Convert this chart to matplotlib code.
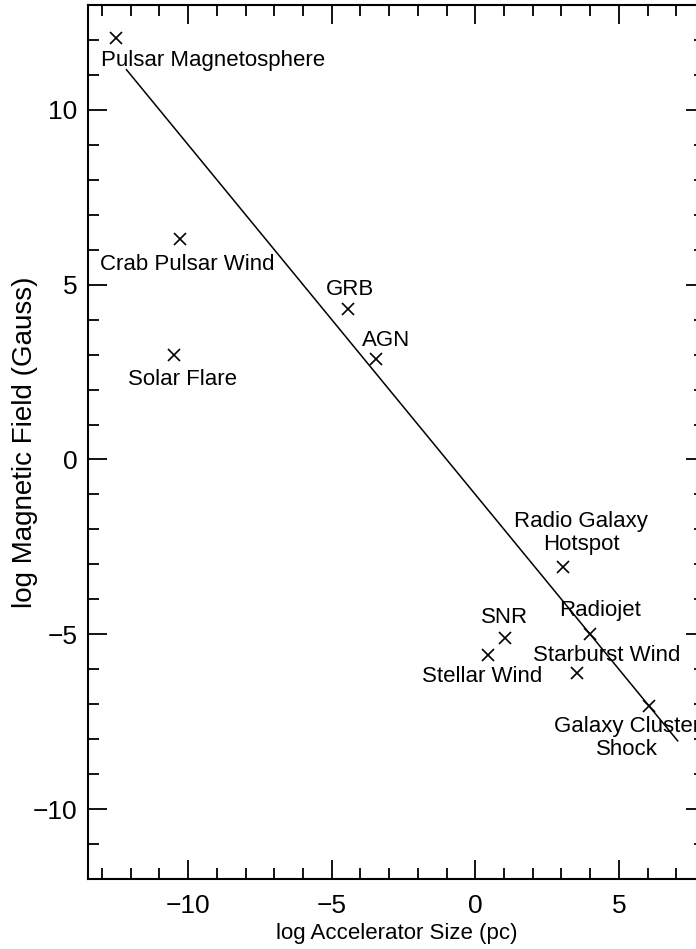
import matplotlib
matplotlib.use("Agg")
import matplotlib.pyplot as plt
from matplotlib.ticker import MultipleLocator

plt.rcParams['font.family'] = ['Liberation Sans', 'DejaVu Sans']

# sources: log size (pc), log B (Gauss)
names = ["Pulsar Magnetosphere", "Crab Pulsar Wind", "Solar Flare", "GRB", "AGN",
         "Radio Galaxy\nHotspot", "Radiojet", "SNR", "Stellar Wind",
         "Starburst Wind", "Galaxy Cluster\nShock"]
log_size = [-12.5, -10.3, -10.5, -4.45, -3.45, 3.05, 4.0, 1.05, 0.45, 3.55, 6.05]
log_B = [12.05, 6.3, 3.0, 4.3, 2.87, -3.07, -5.0, -5.1, -5.6, -6.1, -7.05]

# label centres
label_x = [-9.15, -10.03, -10.21, -4.35, -3.12, 3.68, 4.36, 1.02, 0.25, 4.56, 5.27]
label_y = [11.41, 5.58, 2.30, 4.86, 3.40, -2.10, -4.32, -4.53, -6.21, -5.61, -7.97]

# Hillas line end points
line_x = [-12.15, 7.05]
line_y = [11.15, -8.05]

fig = plt.figure(figsize=(6.96, 9.49), dpi=100)
ax = fig.add_axes([87.7 / 696, 70 / 949, 617.3 / 696, 874 / 949])

ax.plot(line_x, line_y, color="black", lw=1.1)
ax.plot(log_size, log_B, linestyle="", marker="x", color="black",
        markersize=8.5, markeredgewidth=1.2)

for n, tx, ty in zip(names, label_x, label_y):
    ax.text(tx, ty, n, ha="center", va="center", fontsize=16, linespacing=1.1)

ax.set_xlim(-13.5, 8)
ax.set_ylim(-12, 13)

ax.xaxis.set_major_locator(MultipleLocator(5))
ax.xaxis.set_minor_locator(MultipleLocator(1))
ax.yaxis.set_major_locator(MultipleLocator(5))
ax.yaxis.set_minor_locator(MultipleLocator(1))

ax.tick_params(which="both", direction="in", top=True, right=True, width=1.3)
ax.tick_params(which="major", length=13.5)
ax.tick_params(which="minor", length=7.8)
ax.tick_params(axis="x", which="major", labelsize=19, pad=11)
ax.tick_params(axis="y", which="major", labelsize=19, pad=7.5)
for s in ax.spines.values():
    s.set_linewidth(1.5)

ax.set_xlabel("log Accelerator Size (pc)", fontsize=16)
ax.set_ylabel("log Magnetic Field (Gauss)", fontsize=20)
ax.xaxis.set_label_coords(0.5, -0.05)
ax.yaxis.set_label_coords(-0.081, 0.5)

fig.savefig("out.png", dpi=100)
